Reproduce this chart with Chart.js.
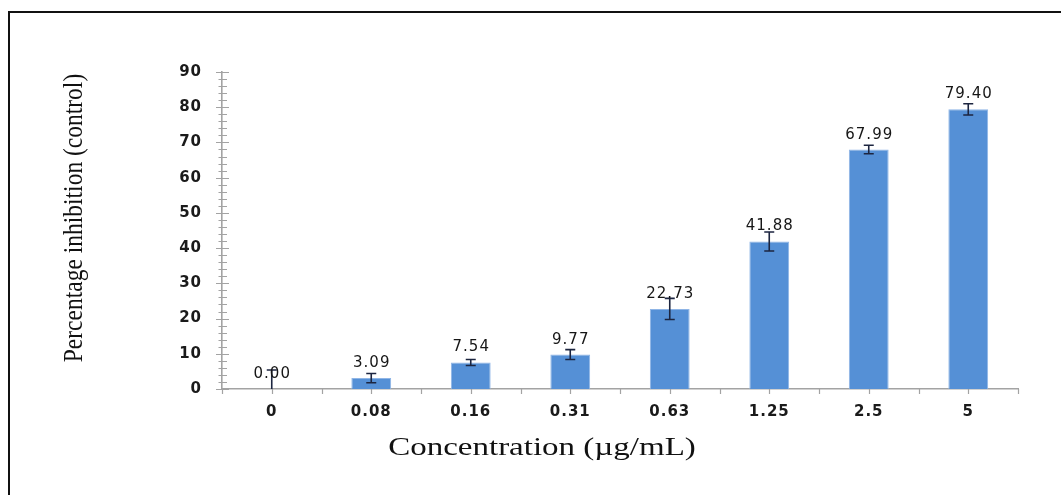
<!DOCTYPE html>
<html><head><meta charset="utf-8">
<script src="https://cdn.jsdelivr.net/npm/chart.js@4.4.0/dist/chart.umd.min.js"></script>
<style>
html,body{margin:0;padding:0;background:#fff;}
#wrap{position:relative;width:1061px;height:495px;overflow:hidden;}
#frame{position:absolute;left:8px;top:11px;right:-10px;bottom:-10px;border-left:2.5px solid #111;border-top:2.5px solid #111;}
canvas{position:absolute;left:0;top:0;}
</style></head><body>
<div id="wrap"><div id="frame"></div><canvas id="c" width="1061" height="495"></canvas></div>
<script>
const categories = ['0', '0.08', '0.16', '0.31', '0.63', '1.25', '2.5', '5'];
const values = [0.00, 3.09, 7.54, 9.77, 22.73, 41.88, 67.99, 79.40];
const errors = [5.4, 1.3, 0.85, 1.4, 3.0, 2.7, 1.2, 1.6];
const yMin = 0, yMax = 90, yStep = 10, yMinorStep = 2;
const xTitle = 'Concentration (\u00b5g/mL)';
const yTitle = 'Percentage inhibition (control)';

const AXIS = '#a3a3a3';

const spacing = {
  id: 'spacing',
  beforeDraw(chart) { chart.ctx.letterSpacing = '1px'; }
};

const extras = {
  id: 'extras',
  afterDatasetsDraw(chart) {
    const ctx = chart.ctx;
    const xs = chart.scales.x, ys = chart.scales.y;
    const meta = chart.getDatasetMeta(0);
    ctx.save();
    // error bars
    ctx.strokeStyle = '#1c2540';
    ctx.lineWidth = 1.6;
    meta.data.forEach((bar, i) => {
      const x = bar.x;
      const yTop = ys.getPixelForValue(values[i] + errors[i]);
      const yBot = ys.getPixelForValue(Math.max(yMin, values[i] - errors[i]));
      ctx.beginPath();
      ctx.moveTo(x, yTop); ctx.lineTo(x, yBot);
      ctx.moveTo(x - 5, yTop); ctx.lineTo(x + 5, yTop);
      if (values[i] - errors[i] > yMin) { ctx.moveTo(x - 5, yBot); ctx.lineTo(x + 5, yBot); }
      ctx.stroke();
    });
    // value labels
    ctx.fillStyle = '#161616';
    ctx.font = '15px "DejaVu Sans"';
    ctx.letterSpacing = '1px';
    ctx.textAlign = 'center';
    ctx.textBaseline = 'alphabetic';
    meta.data.forEach((bar, i) => {
      ctx.fillText(values[i].toFixed(2), bar.x + 0.5, ys.getPixelForValue(values[i]) - 11);
    });
    ctx.letterSpacing = '0px';
    // y axis ticks (major + minor crossing the axis)
    ctx.strokeStyle = AXIS;
    ctx.lineWidth = 1.2;
    const ax = ys.right;
    ctx.beginPath();
    for (let v = yMin; v <= yMax + 1e-9; v += yMinorStep) {
      const py = Math.round(ys.getPixelForValue(v)) + 0.5;
      const major = Math.abs(v % yStep) < 1e-9;
      ctx.moveTo(ax - (major ? 6 : 3.5), py);
      ctx.lineTo(ax + (major ? 7 : 5), py);
    }
    ctx.stroke();
    // x axis ticks (boundaries and centers)
    const n = categories.length;
    const w = (xs.right - xs.left) / n;
    const ay = xs.top;
    ctx.beginPath();
    for (let i = 0; i <= 2 * n; i++) {
      const px = Math.round(xs.left + i * w / 2) + 0.5;
      ctx.moveTo(px, ay); ctx.lineTo(px, ay + 5);
    }
    ctx.stroke();
    // axis titles
    ctx.fillStyle = '#111';
    ctx.font = '25px "Liberation Serif"';
    ctx.textAlign = 'center';
    ctx.textBaseline = 'alphabetic';
    ctx.save();
    ctx.translate(542, 455);
    ctx.scale(1.32, 1);
    ctx.fillText(xTitle, 0, 0);
    ctx.restore();
    ctx.save();
    ctx.font = '23.5px "Liberation Serif"';
    ctx.translate(75, 218);
    ctx.rotate(-Math.PI / 2);
    ctx.scale(1, 1.18);
    ctx.textBaseline = 'middle';
    ctx.fillText(yTitle, 0, 0);
    ctx.restore();
    ctx.restore();
  }
};

new Chart(document.getElementById('c'), {
  type: 'bar',
  data: {
    labels: categories,
    datasets: [{
      data: values,
      backgroundColor: '#5590d6',
      borderColor: '#8fb5e6',
      borderWidth: 1,
      categoryPercentage: 1.0,
      barPercentage: 0.4
    }]
  },
  options: {
    responsive: false,
    animation: false,
    devicePixelRatio: 1,
    layout: { padding: { top: 72, right: 43, left: 0, bottom: 0 } },
    plugins: { legend: { display: false }, tooltip: { enabled: false }, title: { display: false } },
    scales: {
      x: {
        grid: { display: false, drawTicks: false },
        border: { display: true, color: AXIS, width: 1.6 },
        ticks: { color: '#1a1a1a', font: { family: 'DejaVu Sans', size: 15, weight: 'bold' }, padding: 14, maxRotation: 0, autoSkip: false },
        afterFit(s) { s.height = 106; }
      },
      y: {
        min: yMin, max: yMax,
        grid: { display: false, drawTicks: false },
        border: { display: true, color: AXIS, width: 1.6 },
        ticks: { stepSize: yStep, color: '#1a1a1a', font: { family: 'DejaVu Sans', size: 15, weight: 'bold' }, padding: 20, autoSkip: false },
        afterFit(s) { s.width = 222; }
      }
    }
  },
  plugins: [spacing, extras]
});
</script>
</body></html>
